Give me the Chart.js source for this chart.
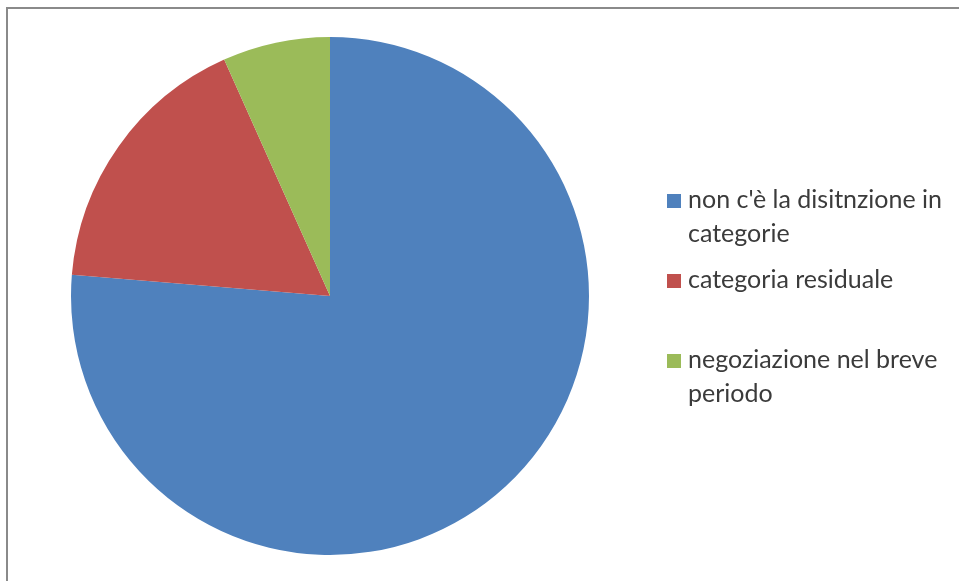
<!DOCTYPE html>
<html>
<head>
<meta charset="utf-8">
<script src="https://cdn.jsdelivr.net/npm/chart.js@4"></script>
<style>
  html, body { margin: 0; padding: 0; background: #fff; }
  #wrap { width: 959px; height: 581px; }
</style>
</head>
<body>
<div id="wrap"><canvas id="pieChart" width="959" height="581"></canvas></div>
<script>
// Categories (legend text split into the lines it wraps to)
const categories = [
  ["non c'è la disitnzione in", "categorie"],
  ["categoria residuale"],
  ["negoziazione nel breve", "periodo"],
];
const values = [76.3, 17.0, 6.7];
const colors = ["#4f81bd", "#c0504d", "#9bbb59"];

// Frame line along the top and left edge
const framePlugin = {
  id: "frame",
  beforeDraw(chart) {
    const ctx = chart.ctx;
    ctx.save();
    ctx.fillStyle = "#fff";
    ctx.fillRect(0, 0, chart.width, chart.height);
    ctx.strokeStyle = "#8a8a8a";
    ctx.lineWidth = 2;
    ctx.beginPath();
    ctx.moveTo(7, chart.height);
    ctx.lineTo(7, 8);
    ctx.lineTo(chart.width, 8);
    ctx.stroke();
    ctx.restore();
  },
};

// Legend on the right, with wrapped labels
const sideLegend = {
  id: "sideLegend",
  afterDraw(chart) {
    const ctx = chart.ctx;
    const x = 667;
    let y = 208; // baseline of the first line of each entry
    ctx.save();
    ctx.font = "25px Lato";
    ctx.textBaseline = "alphabetic";
    ctx.textAlign = "left";
    chart.data.labels.forEach((lines, i) => {
      ctx.fillStyle = chart.data.datasets[0].backgroundColor[i];
      ctx.fillRect(x, y - 14, 14, 14);
      ctx.fillStyle = "#3b3b3b";
      lines.forEach((line, j) => {
        ctx.fillText(line, x + 21, y + j * 34);
      });
      y += 80;
    });
    ctx.restore();
  },
};

new Chart(document.getElementById("pieChart"), {
  type: "pie",
  data: {
    labels: categories,
    datasets: [
      {
        data: values,
        backgroundColor: colors,
        borderWidth: 0,
      },
    ],
  },
  options: {
    responsive: false,
    animation: false,
    layout: {
      padding: { left: 71, right: 370, top: 37, bottom: 26 },
    },
    plugins: {
      legend: { display: false },
      tooltip: { enabled: false },
    },
  },
  plugins: [framePlugin, sideLegend],
});
</script>
</body>
</html>
